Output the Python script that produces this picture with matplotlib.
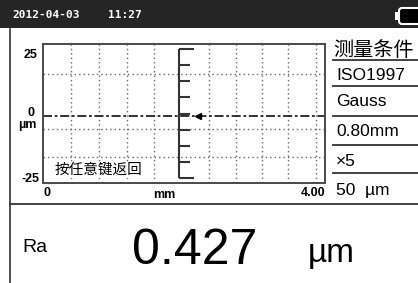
import matplotlib.pyplot as plt
import numpy as np
from matplotlib.patches import Rectangle, FancyBboxPatch

# screen data
date_str = "2012-04-03"
time_str = "11:27"
x_ticks_mm = [0, 4.00]
x_tick_labels = ["0", "4.00"]
y_ticks_um = [25, 0, -25]
y_tick_labels = ["25", "0", "-25"]
profile_x = [0, 4.00]
profile_y = [0, 0]
grid_x = [0.40, 0.79, 1.19, 1.57, 2.35, 2.74, 3.11, 3.48, 3.87]
grid_y = [16.6, -5.4, -16.6]
cond_title = "测量条件"
conditions = ["ISO1997", "Gauss", "0.80mm", "×5", "50  µm"]
result_name = "Ra"
result_value = 0.427
result_unit = "µm"

W, H = 418, 283
fig = plt.figure(figsize=(W / 100, H / 100), dpi=100)

# background axes in pixel coordinates
bg = fig.add_axes([0, 0, 1, 1])
bg.set_xlim(0, W)
bg.set_ylim(H, 0)
bg.axis('off')

# title bar
bg.add_patch(Rectangle((0, 0), W, 28, color='#252525', lw=0))
bg.text(12, 15, date_str, color='white', fontsize=8, family='DejaVu Sans Mono',
        weight='bold', va='center')
bg.text(108, 15, time_str, color='white', fontsize=8, family='DejaVu Sans Mono',
        weight='bold', va='center')
bg.add_patch(Rectangle((395, 12), 4, 8, color='white', lw=0))
bg.add_patch(FancyBboxPatch((399, 8), 25, 16, boxstyle='round,pad=0,rounding_size=3',
                            fc='black', ec='white', lw=1.5))

# frame lines
bg.plot([10, 10], [29, H], color='#333333', lw=1.2)
bg.plot([10, W], [204, 204], color='#333333', lw=1.3)
for sy in [60, 86, 116, 145, 173]:
    bg.plot([333, W], [sy, sy], color='#333333', lw=1.3)

# conditions panel
bg.text(333, 50, cond_title, fontsize=14.5, family='Noto Sans CJK SC', va='center')
for c, cy in zip(conditions, [76, 102, 132, 161, 191]):
    bg.text(336, cy, c, fontsize=12.5, family='Liberation Sans', va='center')

# result
bg.text(22, 252, result_name, fontsize=14, family='Liberation Sans', va='baseline')
bg.text(132, 264, f"{result_value:.3f}", fontsize=36, family='Liberation Sans', va='baseline')
bg.text(308, 262, result_unit, fontsize=24, family='Liberation Sans', va='baseline')

# profile plot
ax = fig.add_axes([43 / W, 1 - 183 / H, 282 / W, 139 / H])
ax.set_xlim(0, 4.0)
ax.set_ylim(-27, 28.6)
for gx in grid_x:
    ax.axvline(gx, color='#666666', lw=1.0, ls=(0, (1, 2.2)))
for gy in grid_y:
    ax.axhline(gy, color='#666666', lw=1.0, ls=(0, (1, 2.2)))
ax.plot(profile_x, profile_y, color='#222222', lw=1.3, ls=(0, (5, 1.5, 1.5, 1.5)))
ax.plot([2.2], [0], marker='<', ms=4, color='black')

# vertical scale bracket
bx = 1.93
ticks = np.linspace(26.6, -25, 9)
ax.plot([bx, bx], [ticks[0], ticks[-1]], color='#333333', lw=1.5, solid_capstyle='butt')
for k, t in enumerate(ticks):
    L = 0.21 if k in (0, len(ticks) - 1) else 0.16
    ax.plot([bx, bx + L], [t, t], color='#333333', lw=1.5, solid_capstyle='butt')

ax.text(0.17, -21.8, "按任意键返回", fontsize=10.5, family='Noto Sans CJK SC', va='center',
        bbox=dict(fc='white', ec='none', pad=0.5))

for s in ax.spines.values():
    s.set_color('#4a4a4a')
    s.set_linewidth(1.4)

ax.set_yticks(y_ticks_um)
yl = ax.set_yticklabels(y_tick_labels, family='Liberation Sans', weight='bold', fontsize=9, ha='center')
ax.tick_params(axis='y', length=0, pad=9)
yl[1].set_va('baseline')
ax.set_xticks(x_ticks_mm)
xl = ax.set_xticklabels(x_tick_labels, family='Liberation Sans', weight='bold', fontsize=9)
xl[0].set_ha('left')
xl[1].set_ha('right')
ax.tick_params(axis='x', length=0, pad=3)
ax.set_xlabel("mm", family='Liberation Sans', weight='bold', fontsize=9)
ax.xaxis.set_label_coords((164 - 43) / 282, -0.045)
bg.text(27, 119, "µm", family='Liberation Sans', weight='bold', fontsize=9, ha='center', va='top')

fig.savefig('out.png', dpi=100)
